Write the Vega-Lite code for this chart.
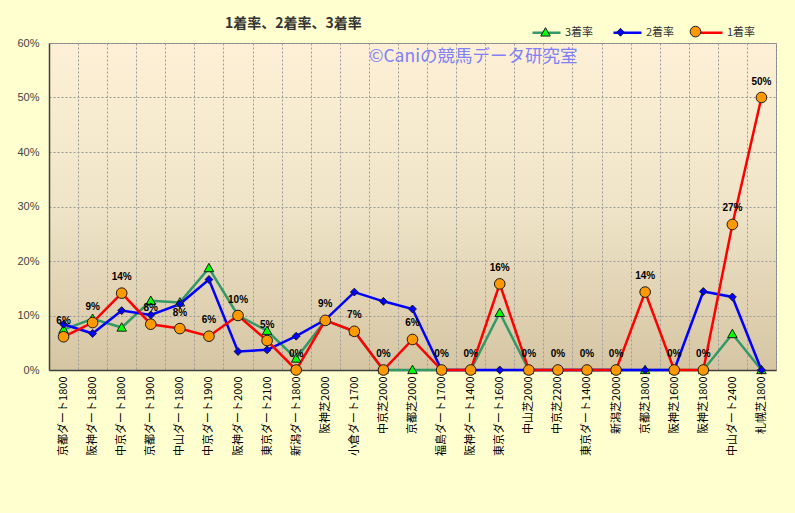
{
  "$schema": "https://vega.github.io/schema/vega-lite/v6.json",
  "width": 727,
  "height": 327,
  "autosize": {"type": "none"},
  "padding": {"left": 49, "top": 43, "right": 19, "bottom": 143},
  "background": "#FFFFD0",
  "title": {
    "text": "1着率、2着率、3着率",
    "anchor": "start",
    "frame": "group",
    "dx": 176,
    "offset": -14,
    "fontSize": 14,
    "fontWeight": "bold",
    "font": "Noto Sans CJK JP",
    "color": "#333333"
  },
  "data": {
    "values": [
      {"course": "京都ダート1800", "1着率": 0.061, "2着率": 0.084, "3着率": 0.074},
      {"course": "阪神ダート1800", "1着率": 0.087, "2着率": 0.067, "3着率": 0.094},
      {"course": "中京ダート1800", "1着率": 0.141, "2着率": 0.109, "3着率": 0.078},
      {"course": "京都ダート1900", "1着率": 0.084, "2着率": 0.101, "3着率": 0.127},
      {"course": "中山ダート1800", "1着率": 0.076, "2着率": 0.121, "3着率": 0.124},
      {"course": "中京ダート1900", "1着率": 0.062, "2着率": 0.166, "3着率": 0.187},
      {"course": "阪神ダート2000", "1着率": 0.1, "2着率": 0.034, "3着率": 0.1},
      {"course": "東京ダート2100", "1着率": 0.054, "2着率": 0.037, "3着率": 0.072},
      {"course": "新潟ダート1800", "1着率": 0, "2着率": 0.062, "3着率": 0.021},
      {"course": "阪神芝2000", "1着率": 0.091, "2着率": 0.092, "3着率": 0.091},
      {"course": "小倉ダート1700", "1着率": 0.071, "2着率": 0.143, "3着率": 0.071},
      {"course": "中京芝2000", "1着率": 0, "2着率": 0.126, "3着率": 0},
      {"course": "京都芝2000", "1着率": 0.056, "2着率": 0.112, "3着率": 0},
      {"course": "福島ダート1700", "1着率": 0, "2着率": 0, "3着率": 0},
      {"course": "阪神ダート1400", "1着率": 0, "2着率": 0, "3着率": 0},
      {"course": "東京ダート1600", "1着率": 0.158, "2着率": 0, "3着率": 0.105},
      {"course": "中山芝2000", "1着率": 0, "2着率": 0, "3着率": 0},
      {"course": "中京芝2200", "1着率": 0, "2着率": 0, "3着率": 0},
      {"course": "東京ダート1400", "1着率": 0, "2着率": 0, "3着率": 0},
      {"course": "新潟芝2000", "1着率": 0, "2着率": 0, "3着率": 0},
      {"course": "京都芝1800", "1着率": 0.143, "2着率": 0, "3着率": 0},
      {"course": "阪神芝1600", "1着率": 0, "2着率": 0, "3着率": 0},
      {"course": "阪神芝1800", "1着率": 0, "2着率": 0.144, "3着率": 0},
      {"course": "中山ダート2400", "1着率": 0.267, "2着率": 0.134, "3着率": 0.066},
      {"course": "札幌芝1800", "1着率": 0.5, "2着率": 0, "3着率": 0}
    ]
  },
  "layer": [
    {
      "transform": [{"fold": ["3着率", "2着率", "1着率"], "as": ["series", "rate"]}],
      "mark": {"type": "line", "strokeWidth": 2.5},
      "encoding": {
        "x": {
          "field": "course", "type": "nominal", "bandPosition": 0.5,
          "scale": {"type": "band", "paddingInner": 0, "paddingOuter": 0,
            "domain": ["京都ダート1800","阪神ダート1800","中京ダート1800","京都ダート1900","中山ダート1800","中京ダート1900","阪神ダート2000","東京ダート2100","新潟ダート1800","阪神芝2000","小倉ダート1700","中京芝2000","京都芝2000","福島ダート1700","阪神ダート1400","東京ダート1600","中山芝2000","中京芝2200","東京ダート1400","新潟芝2000","京都芝1800","阪神芝1600","阪神芝1800","中山ダート2400","札幌芝1800"]},
          "axis": {"title": null}
        },
        "y": {
          "field": "rate", "type": "quantitative",
          "scale": {"domain": [0, 0.6], "nice": false},
          "axis": {"title": null, "values": [0, 0.1, 0.2, 0.3, 0.4, 0.5, 0.6], "format": ".0%"}
        },
        "color": {
          "field": "series", "type": "nominal", "sort": "descending",
          "scale": {"range": ["#339966", "#0000FF", "#FF0000"]},
          "legend": {
            "title": null, "orient": "none", "legendX": 482, "legendY": -26,
            "direction": "horizontal", "symbolType": "stroke", "symbolSize": 784,
            "symbolStrokeWidth": 2.5, "labelFontSize": 11, "labelFont": "Noto Sans CJK JP",
            "labelColor": "#333333", "columnPadding": 14, "labelOffset": 3, "padding": 0
          }
        }
      }
    },
    {
      "transform": [{"fold": ["3着率", "2着率", "1着率"], "as": ["series_m", "rate_m"]}],
      "mark": {"type": "point", "filled": true, "size": 784, "stroke": "#1a1a1a", "strokeWidth": 1, "opacity": 1},
      "encoding": {
        "x": {"field": "course", "type": "nominal", "bandPosition": 0.5},
        "y": {"field": "rate_m", "type": "quantitative"},
        "color": {
          "field": "series_m", "type": "nominal", "sort": "descending",
          "scale": {"range": ["#00FF00", "#0000FF", "#FF9900"]},
          "legend": {
            "title": null, "orient": "none", "legendX": 482, "legendY": -26,
            "direction": "horizontal", "symbolSize": 784, "symbolStrokeColor": "#1a1a1a", "symbolStrokeWidth": 1,
            "labelFontSize": 11, "labelFont": "Noto Sans CJK JP", "labelOpacity": 0,
            "columnPadding": 14, "labelOffset": 3, "padding": 0
          }
        },
        "shape": {
          "field": "series_m", "type": "nominal", "sort": "descending",
          "scale": {"range": [
            "M0,-0.34L0.34,0.26L-0.34,0.26Z",
            "M0,-0.28L0.28,0L0,0.28L-0.28,0Z",
            "M0.38,0A0.38,0.38,0,1,1,-0.38,0A0.38,0.38,0,1,1,0.38,0Z"
          ]},
          "legend": {
            "title": null, "orient": "none", "legendX": 482, "legendY": -26,
            "direction": "horizontal", "symbolSize": 784, "symbolStrokeColor": "#1a1a1a", "symbolStrokeWidth": 1,
            "labelFontSize": 11, "labelFont": "Noto Sans CJK JP", "labelOpacity": 0,
            "columnPadding": 14, "labelOffset": 3, "padding": 0
          }
        }
      }
    },
    {
      "mark": {"type": "text", "dy": -16, "fontSize": 10, "fontWeight": "bold", "font": "Liberation Sans", "color": "#000000"},
      "encoding": {
        "x": {"field": "course", "type": "nominal", "bandPosition": 0.5},
        "y": {"field": "1着率", "type": "quantitative"},
        "text": {"field": "1着率", "type": "quantitative", "format": ".0%"}
      }
    },
    {
      "data": {"values": [{"label": "©Caniの競馬データ研究室"}]},
      "mark": {"type": "text", "align": "left", "baseline": "middle", "fontSize": 17.5, "font": "Noto Sans CJK JP", "color": "#8080F8"},
      "encoding": {
        "x": {"datum": "中京芝2000", "type": "nominal", "bandPosition": 0},
        "y": {"datum": 0.574, "type": "quantitative"},
        "text": {"field": "label", "type": "nominal"}
      }
    }
  ],
  "resolve": {"scale": {"color": "independent", "shape": "independent"}},
  "config": {
    "view": {
      "stroke": "#888888",
      "strokeWidth": 1,
      "fill": {
        "gradient": "linear", "x1": 0, "y1": 0, "x2": 0, "y2": 1,
        "stops": [
          {"offset": 0, "color": "#FDF0D6"},
          {"offset": 0.5, "color": "#EFE4C8"},
          {"offset": 1, "color": "#D5C5A3"}
        ]
      }
    },
    "axis": {
      "grid": true,
      "gridDash": [2, 2],
      "gridColor": "#9A9A9A",
      "gridWidth": 1,
      "ticks": false,
      "domainColor": "#404040",
      "domainWidth": 1.5
    },
    "axisX": {
      "tickBand": "extent",
      "labelAngle": -90,
      "labelFontSize": 11,
      "labelFont": "Noto Sans CJK JP",
      "labelColor": "#000000",
      "labelPadding": 6
    },
    "axisY": {
      "labelFontSize": 11,
      "labelFont": "Liberation Sans",
      "labelColor": "#444444",
      "labelPadding": 10
    }
  }
}
